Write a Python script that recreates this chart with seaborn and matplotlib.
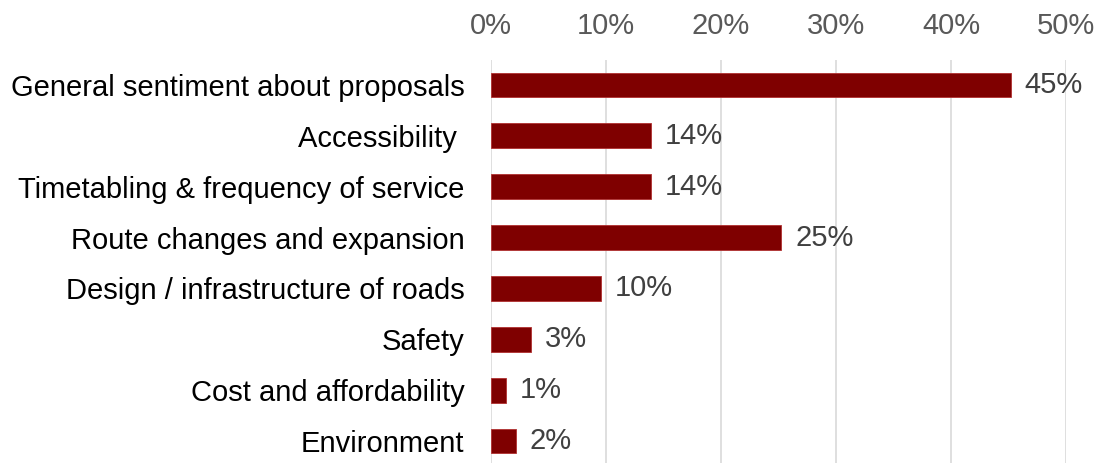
import matplotlib
matplotlib.use("Agg")
import matplotlib.pyplot as plt
import seaborn as sns
import pandas as pd

categories = ["General sentiment about proposals", "Accessibility ",
              "Timetabling & frequency of service", "Route changes and expansion",
              "Design / infrastructure of roads", "Safety",
              "Cost and affordability", "Environment"]
values = [45.2, 13.95, 13.95, 25.25, 9.6, 3.45, 1.3, 2.15]
labels = ["45%", "14%", "14%", "25%", "10%", "3%", "1%", "2%"]
xticks = [0, 10, 20, 30, 40, 50]
xticklabels = ["0%", "10%", "20%", "30%", "40%", "50%"]

sns.set_theme(style="white")
plt.rcParams['font.family'] = ['Liberation Sans', 'DejaVu Sans']

df = pd.DataFrame({"cat": categories, "val": values})

W, H = 1102, 463
fig = plt.figure(figsize=(W / 100, H / 100), dpi=100)
left, right = 491, 1066
top, bottom = 59.6, 466.4
ax = fig.add_axes([left / W, 1 - bottom / H, (right - left) / W, (bottom - top) / H])

sns.barplot(data=df, x="val", y="cat", orient="h", color="#7F0000",
            saturation=1, width=0.49, ax=ax, edgecolor="#B03030", linewidth=0.6)

fs = 21
ax.set_xlim(0, 50)
ax.set_ylim(7.5, -0.5)
ax.set_xticks(xticks)
ax.set_xticklabels(xticklabels)
ax.xaxis.tick_top()
ax.tick_params(axis="x", length=0, labelsize=fs, labelcolor="#595959", pad=14)
ax.tick_params(axis="y", length=0, labelsize=fs, labelcolor="#000000", pad=19)
ax.set_xlabel("")
ax.set_ylabel("")
ax.grid(axis="x", color="#D9D9D9", linewidth=1.2)
ax.set_axisbelow(True)
for s in ax.spines.values():
    s.set_visible(False)

for i, (v, lab) in enumerate(zip(values, labels)):
    ax.text(v + 1.2, i, lab, va="center", ha="left", fontsize=fs, color="#404040")

fig.savefig("out.png", dpi=100)
